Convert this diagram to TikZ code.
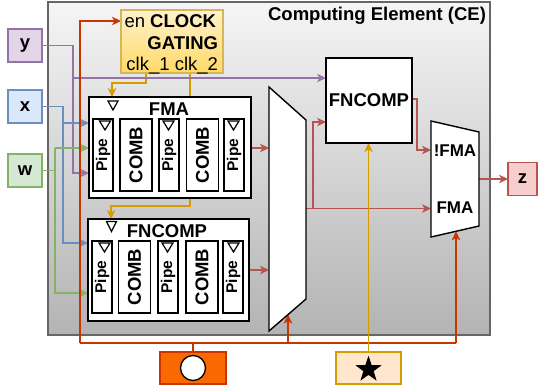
\documentclass[tikz,border=0pt]{standalone}
\usepackage{fontspec}
\setmainfont{Liberation Sans}
\usetikzlibrary{arrows.meta,shapes.geometric}
\definecolor{cepurple}{HTML}{9673A6}
\definecolor{ceblue}{HTML}{6C8EBF}
\definecolor{cegreen}{HTML}{82B366}
\definecolor{cered}{HTML}{B85450}
\definecolor{ceorange}{HTML}{C73500}
\definecolor{ceyellow}{HTML}{D79B00}
\definecolor{cegray}{HTML}{666666}
\definecolor{cetop}{HTML}{F5F5F5}
\definecolor{cebot}{HTML}{B3B3B3}
\definecolor{purfill}{HTML}{E1D5E7}
\definecolor{bluefill}{HTML}{DAE8FC}
\definecolor{greenfill}{HTML}{D5E8D4}
\definecolor{redfill}{HTML}{F8CECC}
\definecolor{cgtop}{HTML}{FFF2CC}
\definecolor{cgbot}{HTML}{FFD966}
\definecolor{cgline}{HTML}{D6B656}
\definecolor{orfill}{HTML}{FA6800}
\definecolor{starfill}{HTML}{FFE6CC}
\begin{document}
\begin{tikzpicture}[x=1pt,y=-1pt,
 every node/.style={inner sep=0pt,outer sep=0pt},
 big/.style={font=\fontsize{18.5}{22}\selectfont\bfseries},
 mid/.style={font=\fontsize{17}{20}\selectfont\bfseries},
 reg/.style={font=\fontsize{18.5}{22}\selectfont},
 conn/.style={line width=1.25pt,-{Stealth[length=9pt,width=8.5pt,inset=2.5pt]}},
 wire/.style={line width=1.25pt},
 inbox/.style={draw, line width=1.2pt, minimum width=34pt, minimum height=33pt, big},
 blk/.style={draw=black, fill=white, line width=1.6pt},
 pipebox/.style={draw=black, fill=white, line width=1.4pt, rotate=90, minimum width=72pt, minimum height=20pt, font=\fontsize{15.5}{18}\selectfont\bfseries},
 combbox/.style={draw=black, fill=white, line width=1.4pt, rotate=90, minimum width=72pt, minimum height=32pt, font=\fontsize{18.5}{20}\selectfont\bfseries},
 clktri/.style={draw=black, line width=1.2pt, fill=white},
 muxshape/.style={draw=black, fill=white, line width=1.4pt}
]
\useasboundingbox (0,0) rectangle (538,389);

% Computing element background
\node[draw=cegray, line width=1.3pt, top color=cetop, bottom color=cebot,
      minimum width=442pt, minimum height=333pt] (ce) at (269,168.5) {};
\node[big, anchor=base east] (title) at (486,20) {Computing Element (CE)};

% inputs / output
\node[inbox, draw=cepurple, fill=purfill] (y) at (25,45.5) {y};
\node[inbox, draw=ceblue, fill=bluefill] (x) at (25,106.5) {x};
\node[inbox, draw=cegreen, fill=greenfill] (w) at (25,170.5) {w};
\node[inbox, draw=cered, fill=redfill, minimum width=29pt] (z) at (522.5,179) {z};

% bottom boxes
\node[draw=ceorange, fill=orfill, line width=1.2pt, minimum width=66pt, minimum height=32pt] (ob) at (193,368) {};
\node[circle, draw=black, fill=white, line width=1.3pt, minimum size=25pt] (obc) at (193,368) {};
\node[draw=ceyellow, fill=starfill, line width=1.2pt, minimum width=65pt, minimum height=32pt] (sb) at (368.5,368) {};
\node[star, star points=5, star point ratio=2.55, fill=black, minimum size=27.5pt] (st) at (368.5,369.5) {};

% coordinates of bends and mux ports
\coordinate (pv) at (73,173);
\coordinate (ph) at (73,78);
\coordinate (bv1) at (63,123);
\coordinate (bv2) at (63,243);
\coordinate (gv1) at (55,148);
\coordinate (gv2) at (55,293);
\coordinate (ob1) at (80,343);
\coordinate (ob2) at (456,343);
\coordinate (ob3) at (80,21);
\coordinate (os1) at (288,343);
\coordinate (c1a) at (146,73);
\coordinate (c1b) at (112,83);
\coordinate (c2a) at (190,73);
\coordinate (c2b) at (111,206);
\coordinate (m1a) at (269,148);
\coordinate (m1b) at (269,270);
\coordinate (m1o) at (306,208.5);
\coordinate (m1s) at (288,314.6);
\coordinate (m2a) at (431,150);
\coordinate (m2b) at (431,208.5);
\coordinate (m2o) at (479,179);
\coordinate (m2s) at (456,231.3);
\coordinate (rb) at (313,208.5);
\coordinate (rt) at (313,122);
\coordinate (fo) at (417,99);
\coordinate (fo2) at (417,150);

% nodes needed for wires (placed first so names exist)
\node[minimum width=162pt, minimum height=101pt] (fma) at (170,147.5) {};
\node[minimum width=161pt, minimum height=102pt] (fnc) at (168.5,270) {};
\node[minimum width=86pt, minimum height=85pt] (fnr) at (369,100.5) {};
\node[minimum width=102pt, minimum height=63pt] (cg) at (172,41.5) {};

% clock wires (behind blocks)
\draw[conn,ceyellow] (c1a) |- (c1b) -- (c1b |- fma.north);
\draw[conn,ceyellow] (c2a) |- (c2b) -- (c2b |- fnc.north);

% input wires
\draw[conn,cepurple] (y.east) -| (pv) -- (pv -| fma.west);
\draw[conn,cepurple] (ph) -- (ph -| fnr.west);
\draw[conn,ceblue] (x.east) -| (bv2) -- (bv2 -| fnc.west);
\draw[conn,ceblue] (bv1) -- (bv1 -| fma.west);
\draw[conn,cegreen] (w.east) -| (gv2) -- (gv2 -| fnc.west);
\draw[wire,cegreen] (gv2) -- (gv1);
\draw[conn,cegreen] (gv1) -- (gv1 -| fma.west);

% control wires
\draw[conn,ceorange] (ob1) -- (ob3) -- (ob3 -| cg.west);
\draw[wire,ceorange] (ob1) -- (ob2);
\draw[conn,ceorange] (ob2) -- (m2s);
\draw[conn,ceorange] (os1) -- (m1s);
\draw[wire,ceorange] (ob.north) -- (ob.north |- ob1);

% data wires
\draw[conn,cered] (m1a -| fma.east) -- (m1a);
\draw[conn,cered] (m1b -| fnc.east) -- (m1b);
\draw[conn,cered] (m1o) -- (m2b);
\draw[conn,cered] (rb) -- (rt) -- (rt -| fnr.west);
\draw[conn,cered] (fo -| fnr.east) -- (fo) -- (fo2) -- (m2a);
\draw[conn,cered] (m2o) -- (z.west);

% star select
\draw[conn,ceyellow] (sb.north) -- (sb.north |- fnr.south);

% clock gating
\node[draw=cgline, line width=1.2pt, top color=cgtop, bottom color=cgbot,
      minimum width=102pt, minimum height=63pt] (cgbox) at (172,41.5) {};
\node[reg, anchor=base east] (cgl1) at (216,27) {en \textbf{CLOCK}};
\node[big, anchor=base east] (cgl2) at (218,49) {GATING};
\node[reg, anchor=base east] (cgl3) at (218,70) {clk\_1 clk\_2};

% FMA block
\node[blk, minimum width=162pt, minimum height=101pt] (fmabox) at (170,147.5) {};
\node[big] (fmat) at (169,109) {FMA};
\draw[clktri] (108,101) -- (118,101) -- (113,110) -- cycle;
\node[pipebox] (fp1) at (103,155) {Pipe};
\node[combbox] (fc1) at (136,155) {COMB};
\node[pipebox] (fp2) at (169,155) {Pipe};
\node[combbox] (fc2) at (202.5,155) {COMB};
\node[pipebox] (fp3) at (234,155) {Pipe};
\foreach \cx in {105,168.5,233.5}
  \draw[clktri] (\cx-5.5,121) -- (\cx+5.5,121) -- (\cx,130) -- cycle;

% FNCOMP block
\node[blk, minimum width=161pt, minimum height=102pt] (fncbox) at (168.5,270) {};
\node[big] (fnct) at (167,231) {FNCOMP};
\draw[clktri] (106.5,221.5) -- (116.5,221.5) -- (111.5,231.5) -- cycle;
\node[pipebox] (np1) at (102,277) {Pipe};
\node[combbox] (nc1) at (134.5,277) {COMB};
\node[pipebox] (np2) at (168,277) {Pipe};
\node[combbox] (nc2) at (202,277) {COMB};
\node[pipebox] (np3) at (233,277) {Pipe};
\foreach \cx in {104.5,167.5,233.5}
  \draw[clktri] (\cx-5.5,243) -- (\cx+5.5,243) -- (\cx,252) -- cycle;

% multiplexers
\draw[muxshape] (269,87) -- (306,120) -- (306,299) -- (269,331) -- cycle;
\draw[muxshape] (431,121) -- (479,132) -- (479,226) -- (431,237) -- cycle;
\node[mid] (m2l1) at (455,151) {!FMA};
\node[mid] (m2l2) at (455,208) {FMA};

% right FNCOMP
\node[blk, big, minimum width=86pt, minimum height=85pt] (fnrbox) at (369,100.5) {FNCOMP};
\end{tikzpicture}
\end{document}
